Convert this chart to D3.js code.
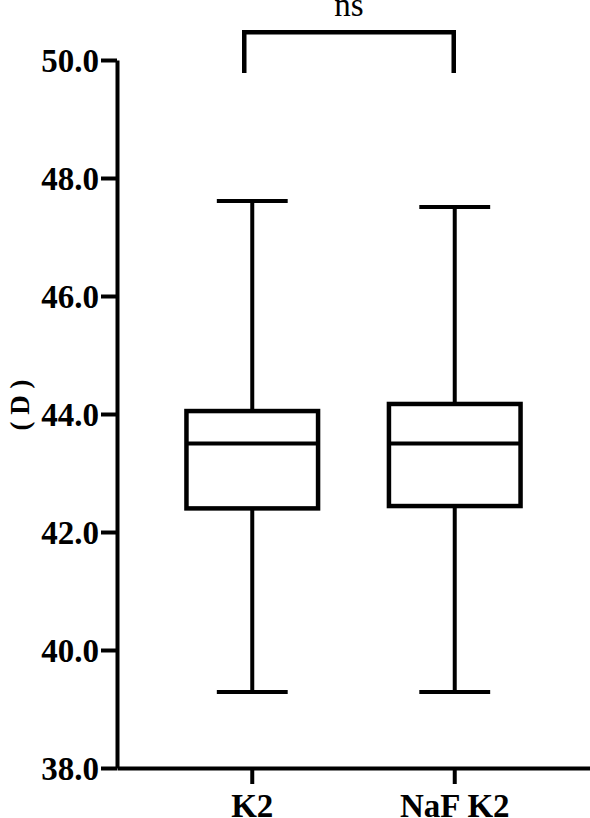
<!DOCTYPE html>
<html>
<head>
<meta charset="utf-8">
<script src="https://cdn.jsdelivr.net/npm/d3@7"></script>
<style>
  body { margin: 0; background: #fff; }
  svg text { font-family: "Liberation Serif", "Times New Roman", serif; fill: #000; }
</style>
</head>
<body>
<svg id="boxplot" width="590" height="818"></svg>
<script>
// data
const groups = ["K2", "NaF K2"];
const whiskerLow = [39.29, 39.29];
const q1 = [42.4, 42.44];
const median = [43.5, 43.5];
const q3 = [44.05, 44.17];
const whiskerHigh = [47.61, 47.51];
const yTicks = [38, 40, 42, 44, 46, 48, 50];
const sigLabel = "ns";
const yLabel = "( D )";

const svg = d3.select("svg#boxplot");
const width = svg.attr("width");
const height = svg.attr("height");
const margin = { top: 60, right: 0, bottom: 50, left: 117 };
const plotWidth = width - margin.left - margin.right;
const plotHeight = height - margin.top - margin.bottom;

const chart = svg
  .append("g")
  .attr("transform", `translate(${margin.left},${margin.top})`);

const yScale = d3.scaleLinear().domain([38, 50]).range([plotHeight, 0]);
const xScale = d3
  .scaleBand()
  .domain(groups)
  .range([0, plotWidth])
  .paddingInner(0)
  .paddingOuter(0.168);

const step = xScale.step();
const boxW = step * 0.65;
const capW = step * 0.35;

//y axis
const leftAxis = d3
  .axisLeft(yScale)
  .tickValues(yTicks)
  .tickFormat(d3.format(".1f"))
  .tickSize(16)
  .tickPadding(2)
  .tickSizeOuter(0);

const yAxisG = chart.append("g").attr("class", "y axis").call(leftAxis);
yAxisG.select(".domain").attr("stroke-width", 4);
yAxisG.selectAll(".tick line").attr("stroke-width", 4);
yAxisG
  .selectAll(".tick text")
  .attr("font-size", 33)
  .attr("font-weight", "bold")
  .attr("dy", "0.34em");

//x axis
const bottomAxis = d3
  .axisBottom(xScale)
  .tickSize(16)
  .tickPadding(10)
  .tickSizeOuter(0);

const xAxisG = chart
  .append("g")
  .attr("class", "x axis")
  .attr("transform", `translate(0,${plotHeight})`)
  .call(bottomAxis);
xAxisG.select(".domain").attr("stroke-width", 4);
xAxisG.selectAll(".tick line").attr("stroke-width", 4);
xAxisG
  .selectAll(".tick text")
  .attr("font-size", 33)
  .attr("font-weight", "bold");

//boxes
const boxData = groups.map((g, i) => ({
  group: g,
  lo: whiskerLow[i],
  q1: q1[i],
  med: median[i],
  q3: q3[i],
  hi: whiskerHigh[i],
}));

const boxes = chart
  .selectAll(".box")
  .data(boxData)
  .join("g")
  .attr("class", "box")
  .attr("transform", (d) => `translate(${xScale(d.group) + xScale.bandwidth() / 2},0)`);

// whisker lines
boxes
  .append("line")
  .attr("x1", 0)
  .attr("x2", 0)
  .attr("y1", (d) => yScale(d.hi))
  .attr("y2", (d) => yScale(d.q3))
  .attr("stroke", "black")
  .attr("stroke-width", 4);
boxes
  .append("line")
  .attr("x1", 0)
  .attr("x2", 0)
  .attr("y1", (d) => yScale(d.q1))
  .attr("y2", (d) => yScale(d.lo))
  .attr("stroke", "black")
  .attr("stroke-width", 4);

// caps
["hi", "lo"].forEach((k) => {
  boxes
    .append("line")
    .attr("x1", -capW / 2)
    .attr("x2", capW / 2)
    .attr("y1", (d) => yScale(d[k]))
    .attr("y2", (d) => yScale(d[k]))
    .attr("stroke", "black")
    .attr("stroke-width", 4);
});

boxes
  .append("rect")
  .attr("x", -boxW / 2)
  .attr("width", boxW)
  .attr("y", (d) => yScale(d.q3))
  .attr("height", (d) => yScale(d.q1) - yScale(d.q3))
  .attr("fill", "white")
  .attr("stroke", "black")
  .attr("stroke-width", 4.5);

boxes
  .append("line")
  .attr("x1", -boxW / 2)
  .attr("x2", boxW / 2)
  .attr("y1", (d) => yScale(d.med))
  .attr("y2", (d) => yScale(d.med))
  .attr("stroke", "black")
  .attr("stroke-width", 4);

//significance bracket
const bx1 = xScale(groups[0]) + xScale.bandwidth() / 2 - 8;
const bx2 = xScale(groups[1]) + xScale.bandwidth() / 2 - 1;
const bTop = yScale(50.47);
const bLeg = yScale(49.78);

chart
  .append("path")
  .attr("d", `M${bx1},${bLeg}V${bTop}H${bx2}V${bLeg}`)
  .attr("fill", "none")
  .attr("stroke", "black")
  .attr("stroke-width", 4.5);

chart
  .append("text")
  .attr("x", (bx1 + bx2) / 2)
  .attr("y", bTop - 16)
  .attr("text-anchor", "middle")
  .attr("font-size", 33)
  .text(sigLabel);

//y label
svg
  .append("text")
  .attr("transform", `translate(29,405) rotate(-90)`)
  .attr("text-anchor", "middle")
  .attr("font-size", 27)
  .attr("font-weight", "bold")
  .text(yLabel);
</script>
</body>
</html>
